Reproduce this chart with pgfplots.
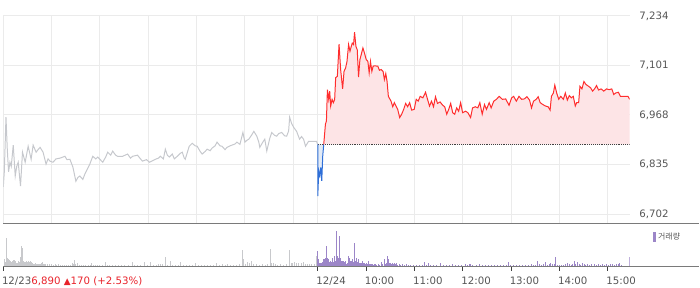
\documentclass[border=0pt]{standalone}
\usepackage{pgfplots}
\pgfplotsset{compat=1.18}
\usepackage{pgfplotstable}
\usepackage{fontspec}
\setmainfont{DejaVu Sans}
\newfontfamily\kr{Noto Sans CJK KR}
\definecolor{gridgray}{HTML}{EBEBEB}
\definecolor{linegray}{HTML}{C6C8CD}
\definecolor{upred}{HTML}{FF2D2D}
\definecolor{pinkfill}{HTML}{FDE4E6}
\definecolor{downblue}{HTML}{2F6FD8}
\definecolor{bluefill}{HTML}{E3EBF6}
\definecolor{volgray}{HTML}{C8C9CC}
\definecolor{volpurple}{HTML}{9C86C8}
\definecolor{labelgray}{HTML}{555555}
\definecolor{axisgray}{HTML}{7A7A7A}
\definecolor{textred}{HTML}{E8232B}

% x: horizontal position (12/23 09:00 = 0, one trading hour = 48.6), y: price
\pgfplotstableread{
x y
0 6775
1 6815
2.7 6962
4 6876
5.3 6815
6.7 6841
8 6830
10 6887
12 6804
13.5 6830
15 6841
17.3 6777
19.3 6868
22 6841
25 6884
28 6849
30 6887
33 6868
35 6875
37 6881
40 6868
43 6836
45 6850
47 6844
50 6841
53 6850
57 6852
62 6857
64 6848
67 6849
70 6828
73 6790
75 6800
77 6804
80 6795
82 6809
85 6825
87 6836
90 6857
93 6850
95 6855
100 6841
103 6855
105 6868
108 6860
110 6871
113 6860
115 6857
120 6857
125 6863
128 6852
130 6857
135 6860
138 6850
140 6844
144 6848
147 6841
150 6845
153 6849
156 6852
158 6857
161 6850
163 6876
165 6860
167 6855
170 6863
172 6850
175 6857
178 6865
180 6868
182 6852
183 6849
187 6884
190 6892
193 6885
195 6884
198 6870
200 6863
203 6870
205 6876
208 6872
210 6879
213 6885
215 6895
218 6885
220 6884
223 6875
225 6881
228 6885
230 6887
233 6890
235 6895
238 6889
241 6921
243 6895
245 6900
247 6903
250 6915
252 6924
255 6911
257 6895
258 6881
261 6895
263 6903
265 6871
268 6905
270 6921
273 6913
275 6911
277 6918
280 6921
283 6912
285 6911
287 6925
288 6962
290 6945
292 6935
295 6924
298 6903
300 6910
302 6903
304 6884
307 6897
311 6897
315 6897
316.3 6889
}\prevday

\pgfplotstableread{
x y
316.3 6889
316.3 6750
317.3 6818
318.3 6805
319.3 6827
320.3 6791
321.3 6858
322.3 6889
}\openblue

\pgfplotstableread{
x y
322.3 6889
324 6943
325 6952
326 7036
327.3 7010
328.3 7032
329.3 6992
330.7 7010
332 7001
333.3 7010
334.3 7068
336 7072
337.7 7158
339.3 7090
341.3 7038
342.7 7085
344.3 7094
345.7 7112
347.3 7157
348.7 7139
350 7152
351 7161
352.3 7157
353.3 7190
354.7 7152
356 7143
357.3 7070
358.7 7117
360 7130
361.7 7148
363.3 7134
365 7117
366.7 7112
368 7081
369.3 7112
370.7 7085
372 7099
373.3 7100
376.7 7099
378.3 7088
380 7090
382 7085
383.3 7063
384.7 7079
386 7058
387.3 7018
390 7005
391.7 6990
393.3 7001
395 6992
396.7 6983
398.7 6961
400.7 6970
402.7 6983
404.7 6999
406.7 6990
408.7 7001
410.7 6981
413.3 6983
415.3 7010
417.3 7005
419.3 7018
422 7014
424.7 7029
426.7 7010
428.7 6992
430.7 7005
432.7 6990
434.7 7017
436.7 6999
439.3 7003
442 6994
444 6990
446 6970
448 6983
450 6999
452 6974
454 6970
456 6987
458 6978
460 7001
462 6974
465 6978
467.3 6974
470 6961
472 6987
474.7 6990
477.3 6987
479.3 7001
481.7 6970
484 6996
486 6983
488.7 7001
490.7 6987
493.3 7005
496 7010
498.7 7018
502 7010
505.3 7011
508.7 6994
511.3 7014
513.3 7018
516 7005
518.7 7018
521.3 7010
524 7011
526.7 7017
529.3 7008
531.3 6987
533.3 7005
536 7010
538 7017
540 7001
542.7 6996
545.3 6992
548 6990
550 6981
551.3 7018
553.3 7027
554.7 7048
556.7 7026
558.7 7010
560.7 7018
563.3 7010
565.3 7027
567.3 7008
569.3 7020
571.3 7014
573.3 7018
575.3 6992
576.7 7001
578.7 7001
580 7045
582 7038
584 7058
586 7050
588.7 7045
590.7 7041
592.7 7032
594.7 7038
596.7 7047
598.7 7035
601.3 7038
604 7032
606.7 7038
609.3 7036
612 7038
614 7023
616 7027
618.7 7029
620.7 7018
628.3 7018
630 7010
}\dayline

% volumes (in panel units)
\pgfplotstableread{
x v
1 7
2 4
3 28.7
4 8.7
5 7
6 6
7 5
8 4.5
9 5
10 6
11 6
12 5
13 3.7
14 3
15 5
16 4
17 10
18 21
19 18.7
20 5
21 4.5
22 4
23 5
24 4
25 5
26 4.5
27 5
28 4
29 3.5
30 2.7
31 2.5
32 3
33 2.5
34 2.7
35 2
36 2.5
37 2
38 3.5
39 4.3
40 2
41 2.5
42 2
44 2
46 2.5
48 2
50 1.5
52 2
54 1.5
56 2
58 1.5
60 1.3
62 1.5
64 1.3
66 1.5
68 1.3
70 3.7
71 2
72 6
73 2
75 3.7
77 1.5
79 1.3
81 1.5
83 1.3
86 1.5
88 1.5
89 3.7
91 1.3
93 1.5
95 1.3
97 1.5
100 1.3
103 4.3
105 1.5
107 1.3
110 1.5
113 1.3
116 1.5
119 1.3
122 1.5
126 1.3
130 4.3
132 1.5
135 1.3
138 1.5
142 4.3
145 1.5
148 4.3
151 1.5
154 1.3
156 2
158 2
160 2
163 10
165 1.5
168 5.3
170 1.5
173 1.3
176 1.5
178 4.3
181 1.5
184 1.3
187 1.5
190 1.3
193 3
196 1.5
199 1.3
202 1.5
205 1.3
208 1.5
211 1.3
214 3
217 1.5
220 2
223 1.5
226 2
229 1.5
232 1.3
235 1.5
238 2
241 17
242 7
244 2
246 4.7
248 3
250 5.3
252 2
255 2.5
258 1.5
261 2
264 1.5
266 2
269 18
270 3
272 3.7
274 2
276 1.5
279 2
282 1.5
285 2
288 17
290 3
291 3.5
293 4
295 3
297 3.5
300 3.5
302 4.3
304 2
306 2.5
308 2
310 2.5
313 2
315 11
}\volprev

\pgfplotstableread{
x v
316.3 15.3
317 7
318 3.7
319 3
320 3.7
321 4
322 7
323 7.5
324 8.7
325 20.3
326 8
327 7
328 4
329 5.3
330 4
331 8.7
332 4
333 10.3
334 5
335 36
336 10.3
337 8.7
338 30.3
339 8.7
340 5.3
341 5.3
342 5.3
343 4.5
344 5.3
345 2
346 3.5
347 10.3
348 8.7
349 5.3
350 5.3
351 7
352 4
353 23.7
354 5.5
355 8.7
356 4
357 7
358 3.7
359 3.7
360 3.7
361 5.3
362 3
363 3.7
364 2
365 3
366 2.5
367 5.3
368 2
369 2.5
370 2
371 2
372 1.5
373 2
374 2
375 1.5
377 2
378 1.5
380 4.3
381 2
383 7
384 2.5
385 3.5
386 10.3
387 7
388 3.7
389 3.7
390 2
391 3.7
392 2.5
393 3.7
394 2
395 3.7
396 1.5
398 2
400 1.3
402 2
404 1.5
406 2
408 1.3
410 1.5
413 1.3
416 1.5
419 1.3
422 1.5
424 4.3
426 1.5
428 3
430 1.5
433 1.3
436 1.5
440 3
443 1.5
446 1.3
449 1.5
452 2
455 1.3
458 1.5
461 1.3
465 2.7
467 1.5
469 2
470 2.7
472 1.5
476 1.3
479 2
482 1.3
485 1.5
488 1.3
491 1.5
494 1.3
497 1.5
500 1.3
503 1.5
506 1.3
508 4.3
510 1.5
513 1.3
516 1.5
519 1.3
522 1.5
525 1.5
528 1.3
531 2.7
533 1.5
535 1.3
537 5.3
539 2
541 1.5
543 2
545 4.3
547 1.5
549 2
550 3
552 2.5
554 2.5
555 9.3
557 1.5
559 1.5
561 1.3
563 1.5
565 2
567 3
569 2
571 1.5
573 2
575 5.3
576 2
578 4.3
580 2
581 1.5
583 3.7
585 2
586 1.5
588 2
590 1.5
592 2
595 2.7
597 1.5
599 2
601 1.5
603 2
605 1.5
607 2
609 1.5
611 2
613 2
615 1.5
617 2
619 2
620 3
622 1.5
630 9.3
}\voltoday

\begin{document}
\begin{tikzpicture}
\path (0bp,0bp) rectangle (700bp,289bp);
% price panel
\begin{axis}[
  at={(0bp,64bp)}, anchor=south west, scale only axis,
  width=630bp, height=209bp,
  xmin=0, xmax=630, ymin=6676, ymax=7234,
  axis line style={draw=none},
  xtick={0,48.6,97.2,145.8,194.4,243,291.6,316.3,364.9,413.5,462.1,510.7,559.3,607.9},
  xticklabels={}, major tick length=0pt,
  ytick={6702,6835,6968,7101,7234},
  yticklabels={{6,702},{6,835},{6,968},{7,101},{7,234}},
  yticklabel pos=right,
  yticklabel style={anchor=west, inner sep=0pt, xshift=9.5bp, text=labelgray, font=\fontsize{10.3}{12}\selectfont},
  grid=major, grid style={draw=gridgray, line width=1bp},
]
\addplot[fill=bluefill, draw=none] table {\openblue} -- cycle;
\addplot[fill=pinkfill, draw=none] table {\dayline} -- (axis cs:630,6889) -- cycle;
\addplot[densely dotted, line width=0.9bp, black!75] coordinates {(316.3,6889) (630,6889)};
\addplot[linegray, line width=1bp] table {\prevday};
\addplot[downblue, line width=1bp] table[skip first n=1] {\openblue};
\addplot[upred, line width=1bp] table {\dayline};
\end{axis}
% volume panel
\begin{axis}[
  at={(0bp,21bp)}, anchor=south west, scale only axis,
  width=630bp, height=43bp,
  xmin=0, xmax=630, ymin=0, ymax=43,
  axis line style={draw=none},
  ytick=\empty,
  xtick={0,316.3,364.9,413.5,462.1,510.7,559.3,607.9},
  xticklabels={{12/23\textcolor{textred}{6,890 {\fontsize{9}{9}\selectfont▲}170 (+2.53\%)}},12/24,10:00,11:00,12:00,13:00,14:00,15:00},
  xtick pos=bottom, tick align=outside, major tick length=4.5bp,
  tick style={black!75, line width=1bp},
  xticklabel style={anchor=north west, inner sep=0pt, xshift=-1.5bp, yshift=-6bp, text=labelgray, font=\fontsize{10.3}{12}\selectfont},
  legend style={draw=none, fill=none, at={(1.0365,0.686)}, anchor=west, inner sep=0pt, font=\kr\fontsize{8}{9}\selectfont, text=labelgray},
  legend image code/.code={\fill[volpurple] (0bp,-4.5bp) rectangle (2.5bp,4.5bp);},
]
\addplot[ycomb, volgray, line width=1bp, forget plot] table {\volprev};
\addplot[ycomb, volpurple, line width=1bp] table {\voltoday};
\addlegendentry{거래량}
\end{axis}
\draw[axisgray, line width=1.5bp] (0bp,64bp) -- (700bp,64bp);
\draw[axisgray, line width=1.5bp] (0bp,21bp) -- (700bp,21bp);
\end{tikzpicture}
\end{document}
